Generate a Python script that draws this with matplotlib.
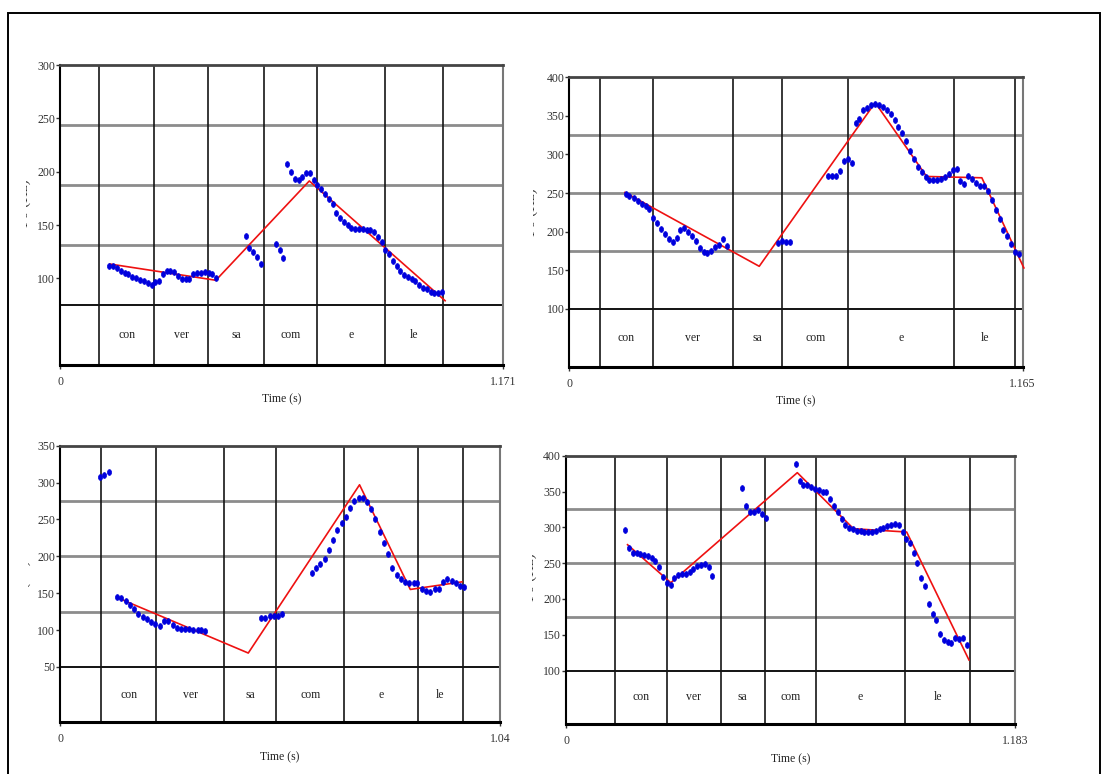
import matplotlib.pyplot as plt
from matplotlib.path import Path
from matplotlib.patches import Rectangle
from matplotlib.transforms import Bbox, TransformedBbox

W, H = 1106, 774
plt.rcParams['font.family'] = ['Liberation Serif', 'DejaVu Serif']

syllables = ['con', 'ver', 'sa', 'com', 'e', 'le']

# top left: 1.171 s utterance
p1_tmax = 1.171
p1_ylim = (18.75, 300)
p1_yticks = [100, 150, 200, 250, 300]
p1_bounds = [0.104, 0.249, 0.392, 0.538, 0.679, 0.860, 1.013]
p1_t = [0.130, 0.141, 0.151, 0.161, 0.172, 0.181, 0.191, 0.201, 0.212, 0.222,
        0.232, 0.242, 0.252, 0.262, 0.271, 0.282, 0.292, 0.301, 0.312, 0.322,
        0.332, 0.342, 0.352, 0.362, 0.373, 0.383, 0.393, 0.402, 0.412,
        0.491, 0.500, 0.511, 0.522, 0.531, 0.571, 0.582, 0.589,
        0.601, 0.611, 0.620, 0.631, 0.640, 0.651, 0.661, 0.671, 0.680, 0.691,
        0.700, 0.710, 0.721, 0.730, 0.740, 0.751, 0.761, 0.770, 0.781, 0.790,
        0.800, 0.811, 0.820, 0.831, 0.841, 0.851, 0.860, 0.870, 0.880, 0.890,
        0.900, 0.910, 0.920, 0.930, 0.939, 0.950, 0.960, 0.969, 0.980, 0.989,
        0.999, 1.010]
p1_f0 = [111.8, 111.8, 109.4, 106.6, 104.7, 103.8, 101.5, 100.0, 98.4, 97.2,
         95.3, 93.5, 96.3, 97.8, 104.1, 106.6, 107.2, 106.0, 102.2, 99.7,
         99.1, 99.7, 104.1, 104.7, 105.3, 106.0, 105.3, 104.1, 100.3,
         140.0, 128.2, 125.0, 120.3, 113.4, 132.2, 126.6, 119.1,
         207.2, 199.7, 192.8, 192.2, 195.3, 199.0, 199.0, 192.2, 187.5, 183.5,
         178.8, 174.1, 169.4, 161.5, 156.9, 153.1, 150.0, 147.5, 146.6, 146.3,
         146.0, 145.3, 145.0, 143.4, 139.0, 133.8, 126.6, 122.5, 116.6, 111.8,
         107.2, 103.1, 101.0, 99.4, 97.8, 94.0, 91.2, 89.7, 87.2, 86.0,
         86.0, 87.2]
p1_fit_t = [0.132, 0.412, 0.659, 1.018]
p1_fit_f0 = [113.4, 98.2, 191.3, 79.0]

# top right: 1.165 s utterance
p2_tmax = 1.165
p2_ylim = (25, 400)
p2_yticks = [100, 150, 200, 250, 300, 350, 400]
p2_bounds = [0.079, 0.214, 0.421, 0.547, 0.717, 0.989, 1.146]
p2_t = [0.145, 0.154, 0.165, 0.176, 0.186, 0.196, 0.206, 0.216, 0.226, 0.236,
        0.246, 0.255, 0.266, 0.276, 0.285, 0.295, 0.306, 0.315, 0.326, 0.336,
        0.345, 0.355, 0.365, 0.375, 0.385, 0.395, 0.405,
        0.535, 0.546, 0.556, 0.566,
        0.665, 0.676, 0.685, 0.696, 0.706, 0.716, 0.726, 0.736, 0.745, 0.755,
        0.766, 0.776, 0.786, 0.796, 0.806, 0.816, 0.826, 0.836, 0.845, 0.856,
        0.865, 0.875, 0.885, 0.895, 0.905, 0.916, 0.925, 0.935, 0.946, 0.956,
        0.965, 0.976, 0.985, 0.995, 1.005, 1.015, 1.025, 1.035, 1.046, 1.055,
        1.066, 1.076, 1.085, 1.096, 1.106, 1.115, 1.125, 1.136, 1.145, 1.155]
p2_f0 = [248.7, 246.5, 243.0, 239.6, 236.2, 232.7, 229.3, 218.0, 211.2, 203.4,
         197.0, 190.5, 186.0, 192.2, 202.5, 204.2, 199.9, 194.8, 187.4, 179.2,
         173.2, 172.4, 175.4, 180.5, 182.7, 190.5, 181.8,
         185.5, 187.4, 186.3, 186.3,
         271.5, 271.5, 272.4, 278.4, 291.8, 294.7, 288.8, 340.9, 346.1, 357.3,
         360.3, 364.6, 365.9, 364.6, 362.0, 357.7, 352.5, 344.8, 336.1, 327.6,
         318.0, 305.1, 294.0, 284.4, 277.1, 270.2, 267.2, 266.3, 266.3, 268.1,
         270.7, 274.9, 280.5, 281.0, 265.5, 262.0, 272.0, 268.5, 262.4, 259.4,
         259.4, 253.0, 240.4, 227.5, 216.7, 202.5, 193.9, 184.0, 173.7, 170.6]
p2_fit_t = [0.143, 0.488, 0.786, 0.918, 1.060, 1.168]
p2_fit_f0 = [250.8, 155.1, 367.2, 271.5, 269.8, 153.0]

# bottom left: 1.04 s utterance
p3_tmax = 1.04
p3_ylim = (-25, 350)
p3_yticks = [50, 100, 150, 200, 250, 300, 350]
p3_bounds = [0.098, 0.228, 0.388, 0.511, 0.672, 0.846, 0.952]
p3_t = [0.095, 0.105, 0.115,
        0.135, 0.145, 0.155, 0.165, 0.176, 0.185, 0.196, 0.206, 0.216, 0.225,
        0.236, 0.246, 0.256, 0.266, 0.276, 0.285, 0.295, 0.306, 0.315, 0.325,
        0.334, 0.343,
        0.476, 0.485, 0.496, 0.505, 0.515, 0.525,
        0.596, 0.605, 0.615, 0.626, 0.636, 0.646, 0.655, 0.666, 0.675, 0.685,
        0.696, 0.706, 0.716, 0.726, 0.736, 0.745, 0.756, 0.766, 0.776, 0.785,
        0.796, 0.805, 0.815, 0.826, 0.836, 0.845, 0.856, 0.865, 0.875, 0.886,
        0.896, 0.905, 0.915, 0.926, 0.936, 0.945, 0.956]
p3_f0 = [307.8, 310.9, 315.0,
         144.3, 143.0, 138.9, 133.6, 128.2, 121.8, 118.2, 114.7, 111.5, 108.4,
         105.3, 112.0, 112.0, 107.4, 103.4, 101.6, 101.6, 101.2, 100.7, 100.3,
         99.6, 98.9,
         116.0, 116.8, 118.7, 118.7, 119.1, 121.4,
         178.0, 184.8, 189.6, 196.9, 209.0, 222.0, 235.4, 245.8, 253.9, 265.6,
         275.1, 278.6, 278.6, 274.1, 264.7, 250.8, 233.3, 218.5, 203.1, 184.2,
         175.3, 169.0, 165.4, 164.0, 164.0, 163.6, 155.5, 152.4, 151.1, 155.1,
         155.1, 164.6, 169.0, 167.2, 163.6, 160.0, 158.2]
p3_fit_t = [0.134, 0.445, 0.708, 0.828, 0.950]
p3_fit_f0 = [144.3, 68.9, 297.0, 155.1, 165.4]

# bottom right: 1.183 s utterance
p4_tmax = 1.183
p4_ylim = (25, 400)
p4_yticks = [100, 150, 200, 250, 300, 350, 400]
p4_bounds = [0.128, 0.265, 0.407, 0.523, 0.658, 0.892, 1.065]
p4_t = [0.155, 0.165, 0.176, 0.186, 0.196, 0.205, 0.216, 0.226, 0.235, 0.246,
        0.255, 0.265, 0.276, 0.285, 0.296, 0.305, 0.315, 0.326, 0.335, 0.346,
        0.355, 0.366, 0.376, 0.385,
        0.464, 0.475, 0.485, 0.495, 0.506, 0.516, 0.526,
        0.605, 0.615, 0.625, 0.635, 0.645, 0.656, 0.665, 0.676, 0.685, 0.696,
        0.706, 0.715, 0.726, 0.735, 0.746, 0.756, 0.766, 0.776, 0.785, 0.796,
        0.806, 0.816, 0.826, 0.835, 0.846, 0.856, 0.866, 0.876, 0.886, 0.895,
        0.905, 0.916, 0.925, 0.936, 0.945, 0.956, 0.966, 0.975, 0.986, 0.995,
        1.005, 1.015, 1.025, 1.036, 1.045, 1.055]
p4_f0 = [296.2, 271.5, 264.1, 263.7, 263.1, 261.7, 260.3, 257.5, 252.5, 244.1,
         231.0, 221.8, 219.0, 228.8, 233.4, 234.4, 235.2, 237.2, 241.8, 245.5,
         246.9, 249.2, 244.6, 232.0,
         355.3, 329.3, 321.8, 321.4, 324.6, 318.6, 313.4,
         388.4, 365.1, 358.7, 358.7, 355.9, 353.9, 352.1, 349.7, 349.7, 339.1,
         329.8, 321.4, 311.6, 302.8, 299.0, 297.2, 295.3, 294.4, 293.9, 293.0,
         293.4, 294.8, 297.2, 299.0, 301.4, 303.2, 304.2, 302.8, 293.9, 283.2,
         277.7, 264.5, 249.7, 228.8, 218.5, 192.9, 178.5, 170.1, 150.6, 142.6,
         139.8, 137.9, 145.4, 143.6, 145.4, 136.2]
p4_fit_t = [0.162, 0.276, 0.609, 0.757, 0.897, 1.061]
p4_fit_f0 = [275.7, 222.6, 376.3, 298.0, 293.4, 114.7]

# narrow upright ellipse for the pitch samples
circle = Path.unit_circle()
dot = Path(circle.vertices * [0.7, 1.0], circle.codes)

fig = plt.figure(figsize=(W / 100, H / 100), dpi=100)
fig.patch.set_facecolor('white')

# page border
fig.add_artist(Rectangle((8 / W, -0.05), (1100 - 8) / W, 1.05 - 13 / H,
                         transform=fig.transFigure, fill=False,
                         lw=1.4, edgecolor='black'))


def px_rect(left, top, right, bottom):
    return [left / W, 1 - bottom / H, (right - left) / W, (bottom - top) / H]


def cut_ylabel(x, y, clip_left):
    # the F0 axis title sits mostly outside the page area, only its edge shows
    txt = fig.text(x / W, 1 - y / H, 'F0 (Hz)', rotation=90, ha='center',
                   va='center', fontsize=11, color='#333333')
    box = Bbox([[clip_left / W, 0], [(clip_left + 20) / W, 1]])
    txt.set_clip_box(TransformedBbox(box, fig.transFigure))
    txt.set_clip_on(True)


def draw_panel(rect, tmax, ylim, yticks, bounds, t, f0, fit_t, fit_f0):
    ax = fig.add_axes(rect)
    lo, hi = ylim
    band = (hi - lo) / 5
    ax.set_xlim(0, tmax)
    ax.set_ylim(lo, hi)

    for k in (2, 3, 4):
        ax.axhline(lo + k * band, color='#8c8c8c', lw=2, zorder=1)
    ax.axhline(lo + band, color='black', lw=1.3, zorder=1)
    for b in bounds:
        ax.axvline(b, color='#151515', lw=1.2, zorder=1)

    for name, a, b in zip(syllables, bounds[:-1], bounds[1:]):
        ax.text((a + b) / 2, lo + band / 2, name, ha='center', va='center',
                fontsize=8.5, color='#222222')

    ax.plot(fit_t, fit_f0, color='#ee1111', lw=1.2, clip_on=False, zorder=3)
    ax.plot(t, f0, ls='none', marker=dot, ms=4.2, color='#0000dd',
            mec='#0000dd', mew=0.5, zorder=4)

    ax.set_yticks(yticks)
    ax.set_yticklabels([str(v) for v in yticks])
    ax.set_xticks([0, tmax])
    ax.set_xticklabels(['0', str(tmax)])
    ax.tick_params(axis='y', direction='out', length=3, width=1, pad=0.5,
                   labelsize=8.5, colors='#333333')
    ax.tick_params(axis='x', direction='out', length=3, width=1, pad=5,
                   labelsize=8.5, colors='#333333')
    ax.set_xlabel('Time (s)', fontsize=8.5, labelpad=4, color='#222222')

    ax.spines['top'].set_linewidth(2)
    ax.spines['top'].set_color('#444444')
    ax.spines['bottom'].set_linewidth(2.2)
    ax.spines['bottom'].set_color('black')
    ax.spines['left'].set_linewidth(1.5)
    ax.spines['left'].set_color('black')
    ax.spines['right'].set_linewidth(1.5)
    ax.spines['right'].set_color('#777777')
    return ax


draw_panel(px_rect(60, 65, 503, 365), p1_tmax, p1_ylim, p1_yticks,
           p1_bounds, p1_t, p1_f0, p1_fit_t, p1_fit_f0)
draw_panel(px_rect(569.3, 77.3, 1022.7, 366.7), p2_tmax, p2_ylim, p2_yticks,
           p2_bounds, p2_t, p2_f0, p2_fit_t, p2_fit_f0)
draw_panel(px_rect(60, 445.7, 500, 722.3), p3_tmax, p3_ylim, p3_yticks,
           p3_bounds, p3_t, p3_f0, p3_fit_t, p3_fit_f0)
draw_panel(px_rect(566, 455.7, 1015.3, 724.2), p4_tmax, p4_ylim, p4_yticks,
           p4_bounds, p4_t, p4_f0, p4_fit_t, p4_fit_f0)

cut_ylabel(24, 203, 26)
cut_ylabel(531, 212, 533)
cut_ylabel(24, 584, 28)
cut_ylabel(530, 577, 532)

fig.savefig('out.png', dpi=100)
